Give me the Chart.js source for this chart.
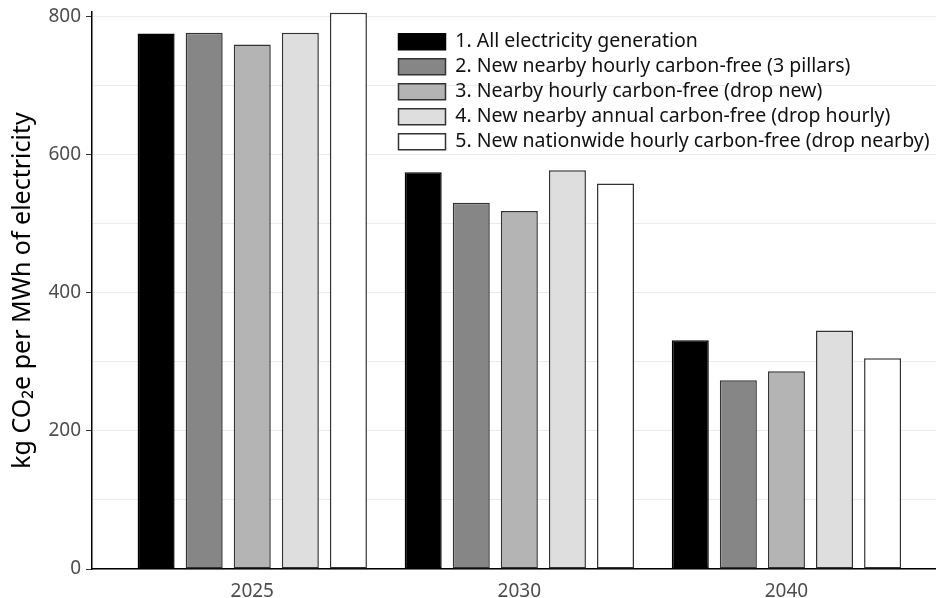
<!DOCTYPE html>
<html>
<head>
<meta charset="utf-8">
<title>Emissions by procurement rule</title>
<script src="https://cdn.jsdelivr.net/npm/chart.js@4"></script>
<style>
  body { margin: 0; background: #fff; }
  canvas { display: block; }
</style>
</head>
<body>
<canvas id="myChart" width="936" height="598"></canvas>
<script>
// Chart data
const categories = ["2025", "2030", "2040"];

const seriesNames = [
	"1. All electricity generation",
	"2. New nearby hourly carbon-free (3 pillars)",
	"3. Nearby hourly carbon-free (drop new)",
	"4. New nearby annual carbon-free (drop hourly)",
	"5. New nationwide hourly carbon-free (drop nearby)"
];

const allGeneration = [775, 574, 331];
const nearbyHourly3Pillars = [776, 530, 273];
const nearbyHourlyDropNew = [759, 518, 286];
const nearbyAnnualDropHourly = [776, 577, 345];
const nationwideHourlyDropNearby = [805, 558, 305];

const yTicks = [0, 100, 200, 300, 400, 500, 600, 700, 800];

const fills = ["#000000", "#868686", "#b4b4b4", "#dedede", "#ffffff"];

const seriesValues = [
	allGeneration,
	nearbyHourly3Pillars,
	nearbyHourlyDropNew,
	nearbyAnnualDropHourly,
	nationwideHourlyDropNearby
];

// bars sit on a linear x axis so the group spacing can be asymmetric like the original
let datasets = seriesValues.map((values, i) => {
	return {
		label: seriesNames[i],
		data: values.map((v, j) => ({x: j, y: v})),
		backgroundColor: fills[i],
		borderColor: i === 0 ? "#000000" : "#333333",
		borderWidth: 1.5,
		borderSkipped: false,
		categoryPercentage: 0.9,
		barPercentage: 0.77
	};
});

// move the legend into the top right corner of the plot
const legendMover = {
	id: "legendMover",
	afterLayout(chart) {
		const legend = chart.legend;
		legend.left = 393;
		legend.right = 936;
		legend.top = 26.5;
		legend.bottom = 200;
	}
};

const myChart = document.getElementById("myChart");

let barChart = new Chart(myChart, {
	type: "bar",
	data: {
		datasets: datasets
	},
	plugins: [legendMover],
	options: {
		responsive: false,
		animation: false,
		layout: {
			padding: {top: 12, right: 0, left: 0, bottom: 0}
		},
		plugins: {
			tooltip: {enabled: false},
			legend: {
				position: "chartArea",
				align: "start",
				labels: {
					boxWidth: 47,
					boxHeight: 16,
					padding: 5.5,
					color: "#111111",
					font: {family: "'Noto Sans'", size: 19.5}
				}
			}
		},
		scales: {
			x: {
				type: "linear",
				offset: false,
				min: -0.6,
				max: 2.56,
				afterBuildTicks: scale => {
					scale.ticks = categories.map((c, i) => ({value: i}));
				},
				afterFit: scale => {
					scale.height = 29;
					scale.paddingLeft = 0;
					scale.paddingRight = 0;
				},
				grid: {display: false, offset: false},
				border: {display: true, color: "#000000", width: 1.5},
				ticks: {
					color: "#4d4d4d",
					padding: 3,
					font: {family: "'Noto Sans'", size: 19},
					callback: value => categories[value]
				}
			},
			y: {
				min: 0,
				max: 806,
				afterBuildTicks: scale => {
					scale.ticks = yTicks.map(v => ({value: v}));
				},
				afterFit: scale => {
					// fixed width and no extra room for the top label
					scale.width = 92;
					scale.paddingTop = 0;
					scale.paddingBottom = 0;
				},
				grid: {
					color: "#ebebeb",
					lineWidth: 1,
					tickLength: 6,
					tickColor: ctx => (ctx.tick && ctx.tick.value % 200 === 0) ? "#333333" : "rgba(0,0,0,0)"
				},
				border: {display: true, color: "#000000", width: 1.5},
				ticks: {
					color: "#4d4d4d",
					padding: 5,
					font: {family: "'Noto Sans'", size: 19},
					callback: value => (value % 200 === 0 ? value : "")
				},
				title: {
					display: true,
					text: "kg CO₂e per MWh of electricity",
					color: "#000000",
					padding: {top: 8, bottom: 0},
					font: {family: "'Noto Sans'", size: 25}
				}
			}
		}
	}
});
</script>
</body>
</html>
